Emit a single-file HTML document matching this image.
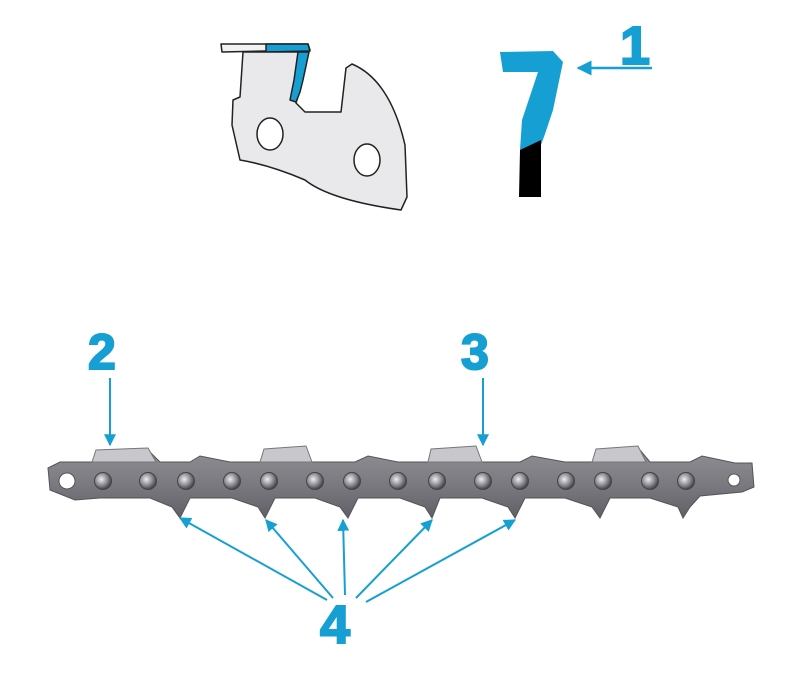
<!DOCTYPE html>
<html><head><meta charset="utf-8"><style>
html,body{margin:0;padding:0;background:#fff;width:800px;height:686px;overflow:hidden}
svg{display:block}
text{font-family:"Liberation Sans",sans-serif;font-weight:bold;fill:#169fd3;stroke:#169fd3;stroke-width:2}
</style></head><body>
<svg width="800" height="686" viewBox="0 0 800 686" xmlns="http://www.w3.org/2000/svg">
<defs>
<linearGradient id="g" x1="0" y1="0" x2="0" y2="1">
<stop offset="0" stop-color="#8e8e93"/><stop offset="0.5" stop-color="#7a7a80"/><stop offset="1" stop-color="#606066"/>
</linearGradient>
<radialGradient id="r" cx="0.4" cy="0.4" r="0.6">
<stop offset="0" stop-color="#eeeef0"/><stop offset="0.6" stop-color="#8a8a90"/><stop offset="1" stop-color="#44444a"/>
</radialGradient>
<marker id="a" viewBox="0 0 10 10" refX="9" refY="5" markerWidth="6" markerHeight="6" orient="auto-start-reverse"><path d="M0,0 L10,5 L0,10 z" fill="#169fd3"/></marker>
</defs>
<!-- top cutter -->
<g stroke="#222" stroke-width="1.5" stroke-linejoin="round">
<path d="M221,44 L308,44 L310,50 L222,52 Z" fill="#f2f2f2"/>
<path d="M266,44 L308,44 L310,51 L266,52 Z" fill="#169fd3"/>
<path d="M243,52 L305,52 L303,75 L300,90 L296,103 L305,112 L341,112 L346,68 L352,64 Q390,80 405,145 L407,197 L401,210 Q330,200 305,180 Q270,165 240,160 L232,125 L233,100 L240,97 Z" fill="#e9e9ec"/>
<path d="M298,52 L309,52 L303,80 L300,92 L296,102 L290,100 L294,80 Z" fill="#169fd3"/>
<ellipse cx="270" cy="134" rx="13" ry="16" fill="#fff"/>
<ellipse cx="367" cy="160" rx="13" ry="16" fill="#fff"/>
</g>
<!-- profile 7 -->
<path d="M500,52 L553,51 L563,62 L553,110 L545,134 L541,145 L520,150 L522,120 L538,72 L503,72 Z" fill="#169fd3"/>
<path d="M520,150 L541,140 L541,197 L519,197 Z" fill="#000"/>
<line x1="652" y1="68" x2="578" y2="68" stroke="#169fd3" stroke-width="2.5" marker-end="url(#a)"/>
<text x="620" y="64" font-size="54">1</text>
<!-- chain -->
<g stroke="#555" stroke-width="1">
<path d="M48,468 L60,462 L100,462 L105,452 L150,452 L160,462 L190,462 L200,456 L230,462 L262,462 L265,452 L300,452 L310,462 L355,462 L368,456 L398,462 L430,462 L432,452 L470,452 L480,462 L520,462 L532,456 L565,462 L596,462 L598,450 L640,450 L650,462 L690,462 L702,456 L735,463 L752,463 L754,487 L742,492 L700,496 L690,507 L683,518 L678,507 L650,498 L610,498 L600,518 L592,507 L565,498 L525,498 L515,518 L508,507 L482,498 L440,498 L432,518 L425,507 L400,498 L358,498 L348,518 L340,507 L315,498 L275,498 L265,518 L258,507 L232,498 L190,498 L180,518 L172,507 L150,498 L100,498 L75,500 L60,494 L50,490 Z" fill="url(#g)"/>
</g>
<g fill="#c8c8cc" stroke="#777" stroke-width="1">
<path d="M92,462 L96,450 L148,448 L156,462 Z"/>
<path d="M260,462 L264,449 L306,446 L312,462 Z"/>
<path d="M428,462 L431,449 L476,446 L482,462 Z"/>
<path d="M592,462 L596,449 L638,446 L646,462 Z"/>
</g>
<circle cx="67" cy="481" r="8" fill="#fff" stroke="#555"/>
<circle cx="734" cy="480" r="6" fill="#fff" stroke="#555"/>
<g fill="url(#r)" stroke="#444">
<circle cx="103" cy="481" r="8.5"/><circle cx="148" cy="481" r="8.5"/>
<circle cx="186" cy="481" r="8.5"/><circle cx="232" cy="481" r="8.5"/>
<circle cx="269" cy="481" r="8.5"/><circle cx="315" cy="481" r="8.5"/>
<circle cx="352" cy="481" r="8.5"/><circle cx="398" cy="481" r="8.5"/>
<circle cx="437" cy="481" r="8.5"/><circle cx="483" cy="481" r="8.5"/>
<circle cx="520" cy="481" r="8.5"/><circle cx="566" cy="481" r="8.5"/>
<circle cx="603" cy="481" r="8.5"/><circle cx="650" cy="481" r="8.5"/>
<circle cx="686" cy="481" r="8.5"/>
</g>
<!-- labels 2 3 -->
<text x="88" y="369" font-size="50">2</text>
<text x="461" y="369" font-size="50">3</text>
<line x1="110" y1="378" x2="110" y2="445" stroke="#169fd3" stroke-width="2" marker-end="url(#a)"/>
<line x1="483" y1="378" x2="483" y2="445" stroke="#169fd3" stroke-width="2" marker-end="url(#a)"/>
<!-- 4 -->
<g stroke="#169fd3" stroke-width="2" marker-end="url(#a)">
<line x1="327" y1="600" x2="180" y2="518"/>
<line x1="333" y1="598" x2="266" y2="520"/>
<line x1="345" y1="595" x2="343" y2="520"/>
<line x1="356" y1="598" x2="432" y2="520"/>
<line x1="366" y1="602" x2="515" y2="520"/>
</g>
<text x="320" y="643" font-size="54">4</text>
</svg>
</body></html>
